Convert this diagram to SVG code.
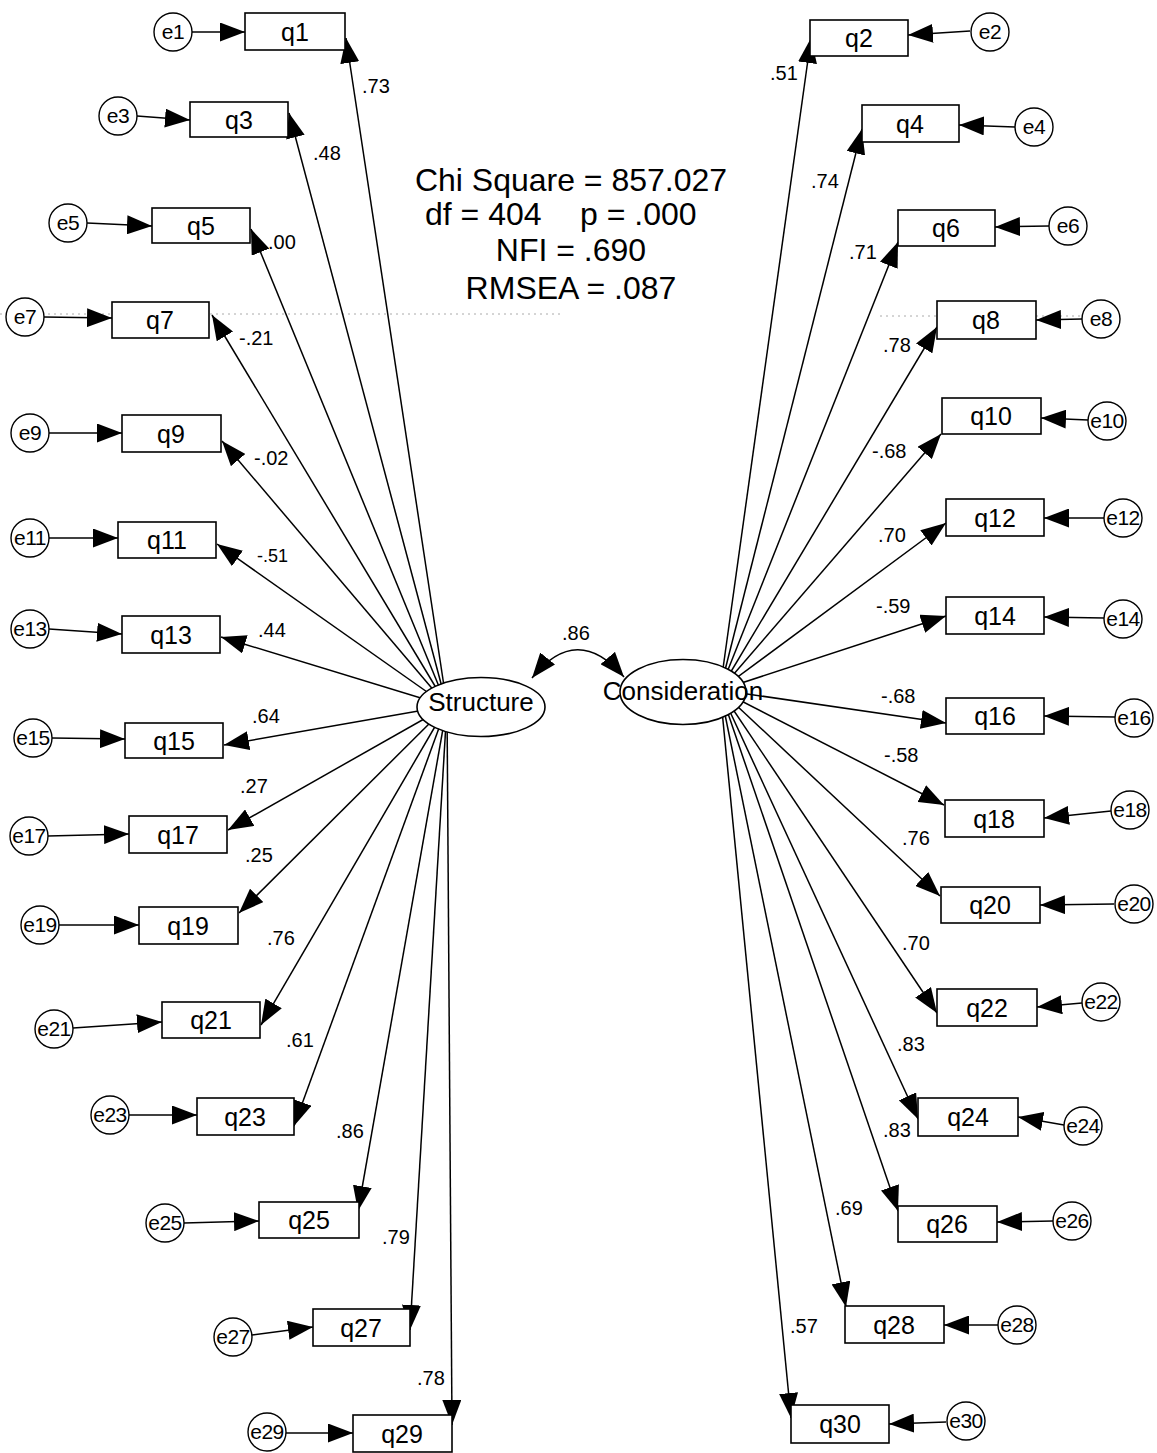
<svg xmlns="http://www.w3.org/2000/svg" width="1157" height="1453" viewBox="0 0 1157 1453">
<style>
.box{fill:#fff;stroke:#000;stroke-width:1.6}
.err{fill:#fff;stroke:#000;stroke-width:1.4}
.lat{fill:#fff;stroke:#000;stroke-width:1.6}
.qt{font-family:"Liberation Sans",Arial,sans-serif;font-size:25px;text-anchor:middle;fill:#000}
.et{font-family:"Liberation Sans",Arial,sans-serif;font-size:21px;text-anchor:middle;fill:#000;letter-spacing:-0.5px}
.lt{font-family:"Liberation Sans",Arial,sans-serif;font-size:26px;text-anchor:middle;fill:#000}
.wt{font-family:"Liberation Sans",Arial,sans-serif;font-size:20px;fill:#000}
.fit{font-family:"Liberation Sans",Arial,sans-serif;font-size:32px;fill:#000}
.c{stroke:#000;stroke-width:1.5;fill:none;marker-end:url(#ah)}
</style>
<defs>
<marker id="ah" viewBox="0 0 25 19" refX="25" refY="9.5" markerWidth="25" markerHeight="19" markerUnits="userSpaceOnUse" orient="auto-start-reverse"><path d="M0,0 L25,9.5 L0,19 z" fill="#000"/></marker>
</defs>
<rect width="1157" height="1453" fill="#fff"/>
<g id="scan-artifact" stroke="#aaa" stroke-width="1" stroke-dasharray="2 4">
<line x1="0" y1="314" x2="560" y2="314"/>
<line x1="880" y1="316" x2="1120" y2="316"/>
</g>
<g id="connectors">
<line class="c" x1="447" y1="706" x2="346" y2="38"/>
<line class="c" x1="447" y1="706" x2="289" y2="113"/>
<line class="c" x1="447" y1="706" x2="251" y2="229"/>
<line class="c" x1="447" y1="706" x2="212" y2="315"/>
<line class="c" x1="447" y1="706" x2="222" y2="441"/>
<line class="c" x1="447" y1="706" x2="217" y2="544"/>
<line class="c" x1="447" y1="706" x2="221" y2="637"/>
<line class="c" x1="447" y1="706" x2="224" y2="745"/>
<line class="c" x1="447" y1="706" x2="228" y2="830"/>
<line class="c" x1="447" y1="706" x2="239" y2="913"/>
<line class="c" x1="447" y1="706" x2="261" y2="1025"/>
<line class="c" x1="447" y1="706" x2="294" y2="1126"/>
<line class="c" x1="447" y1="706" x2="358" y2="1211"/>
<line class="c" x1="447" y1="706" x2="410" y2="1330"/>
<line class="c" x1="447" y1="706" x2="452" y2="1425"/>
<line class="c" x1="720" y1="690" x2="811" y2="38"/>
<line class="c" x1="720" y1="690" x2="862" y2="129"/>
<line class="c" x1="720" y1="690" x2="898" y2="242"/>
<line class="c" x1="720" y1="690" x2="937" y2="327"/>
<line class="c" x1="720" y1="690" x2="941" y2="434"/>
<line class="c" x1="720" y1="690" x2="946" y2="523"/>
<line class="c" x1="720" y1="690" x2="946" y2="616"/>
<line class="c" x1="720" y1="690" x2="946" y2="723"/>
<line class="c" x1="720" y1="690" x2="944" y2="805"/>
<line class="c" x1="720" y1="690" x2="940" y2="896"/>
<line class="c" x1="720" y1="690" x2="937" y2="1013"/>
<line class="c" x1="720" y1="690" x2="918" y2="1119"/>
<line class="c" x1="720" y1="690" x2="898" y2="1211"/>
<line class="c" x1="720" y1="690" x2="846" y2="1307"/>
<line class="c" x1="720" y1="690" x2="791" y2="1418"/>
<line class="c" x1="192" y1="32" x2="245" y2="32"/>
<line class="c" x1="137" y1="116" x2="190" y2="120"/>
<line class="c" x1="87" y1="223" x2="152" y2="226"/>
<line class="c" x1="44" y1="317" x2="112" y2="318"/>
<line class="c" x1="49" y1="433" x2="122" y2="433"/>
<line class="c" x1="49" y1="538" x2="118" y2="538"/>
<line class="c" x1="49" y1="629" x2="122" y2="634"/>
<line class="c" x1="52" y1="738" x2="125" y2="739"/>
<line class="c" x1="48" y1="836" x2="129" y2="834"/>
<line class="c" x1="59" y1="925" x2="139" y2="925"/>
<line class="c" x1="73" y1="1028" x2="162" y2="1022"/>
<line class="c" x1="129" y1="1115" x2="197" y2="1115"/>
<line class="c" x1="184" y1="1223" x2="259" y2="1221"/>
<line class="c" x1="252" y1="1335" x2="313" y2="1327"/>
<line class="c" x1="286" y1="1433" x2="353" y2="1433"/>
<line class="c" x1="970" y1="31" x2="908" y2="35"/>
<line class="c" x1="1015" y1="127" x2="959" y2="125"/>
<line class="c" x1="1049" y1="226" x2="995" y2="227"/>
<line class="c" x1="1082" y1="319" x2="1036" y2="320"/>
<line class="c" x1="1088" y1="420" x2="1041" y2="418"/>
<line class="c" x1="1104" y1="518" x2="1044" y2="518"/>
<line class="c" x1="1104" y1="618" x2="1044" y2="617"/>
<line class="c" x1="1115" y1="717" x2="1044" y2="716"/>
<line class="c" x1="1111" y1="811" x2="1044" y2="818"/>
<line class="c" x1="1114" y1="904" x2="1040" y2="905"/>
<line class="c" x1="1082" y1="1003" x2="1037" y2="1007"/>
<line class="c" x1="1064" y1="1125" x2="1018" y2="1117"/>
<line class="c" x1="1053" y1="1221" x2="997" y2="1222"/>
<line class="c" x1="998" y1="1325" x2="944" y2="1325"/>
<line class="c" x1="946" y1="1422" x2="889" y2="1424"/>
<path class="c" d="M532,678 Q577,622 624,677" marker-start="url(#ah)"/>
<text class="wt" x="562" y="640">.86</text>
</g>
<g id="nodes-latent">
<g id="Structure"><ellipse class="lat" cx="481" cy="707" rx="64" ry="29.5"/><text class="lt" x="481" y="711">Structure</text></g>
<g id="Consideration"><ellipse class="lat" cx="683" cy="692" rx="63" ry="32.5"/><text class="lt" x="683" y="700">Consideration</text></g>
</g>
<g id="nodes-observed">
<g id="q1"><rect class="box" x="245" y="13" width="100" height="37"/><text class="qt" x="295" y="41">q1</text></g>
<g id="q3"><rect class="box" x="190" y="102" width="98" height="35"/><text class="qt" x="239" y="129">q3</text></g>
<g id="q5"><rect class="box" x="152" y="208" width="98" height="35"/><text class="qt" x="201" y="235">q5</text></g>
<g id="q7"><rect class="box" x="112" y="302" width="97" height="36"/><text class="qt" x="160" y="329">q7</text></g>
<g id="q9"><rect class="box" x="122" y="415" width="99" height="37"/><text class="qt" x="171" y="443">q9</text></g>
<g id="q11"><rect class="box" x="118" y="522" width="98" height="36"/><text class="qt" x="167" y="549">q11</text></g>
<g id="q13"><rect class="box" x="122" y="616" width="98" height="37"/><text class="qt" x="171" y="644">q13</text></g>
<g id="q15"><rect class="box" x="125" y="723" width="98" height="35"/><text class="qt" x="174" y="750">q15</text></g>
<g id="q17"><rect class="box" x="129" y="816" width="98" height="37"/><text class="qt" x="178" y="844">q17</text></g>
<g id="q19"><rect class="box" x="139" y="907" width="99" height="37"/><text class="qt" x="188" y="935">q19</text></g>
<g id="q21"><rect class="box" x="162" y="1002" width="98" height="36"/><text class="qt" x="211" y="1029">q21</text></g>
<g id="q23"><rect class="box" x="197" y="1098" width="97" height="37"/><text class="qt" x="245" y="1126">q23</text></g>
<g id="q25"><rect class="box" x="259" y="1202" width="100" height="36"/><text class="qt" x="309" y="1229">q25</text></g>
<g id="q27"><rect class="box" x="313" y="1309" width="97" height="37"/><text class="qt" x="361" y="1337">q27</text></g>
<g id="q29"><rect class="box" x="353" y="1415" width="99" height="37"/><text class="qt" x="402" y="1443">q29</text></g>
<g id="q2"><rect class="box" x="810" y="20" width="98" height="36"/><text class="qt" x="859" y="47">q2</text></g>
<g id="q4"><rect class="box" x="862" y="105" width="97" height="37"/><text class="qt" x="910" y="133">q4</text></g>
<g id="q6"><rect class="box" x="898" y="210" width="97" height="36"/><text class="qt" x="946" y="237">q6</text></g>
<g id="q8"><rect class="box" x="937" y="301" width="99" height="38"/><text class="qt" x="986" y="329">q8</text></g>
<g id="q10"><rect class="box" x="942" y="398" width="99" height="36"/><text class="qt" x="991" y="425">q10</text></g>
<g id="q12"><rect class="box" x="946" y="499" width="98" height="37"/><text class="qt" x="995" y="527">q12</text></g>
<g id="q14"><rect class="box" x="946" y="597" width="98" height="37"/><text class="qt" x="995" y="625">q14</text></g>
<g id="q16"><rect class="box" x="946" y="698" width="98" height="36"/><text class="qt" x="995" y="725">q16</text></g>
<g id="q18"><rect class="box" x="945" y="800" width="99" height="37"/><text class="qt" x="994" y="828">q18</text></g>
<g id="q20"><rect class="box" x="941" y="887" width="99" height="36"/><text class="qt" x="990" y="914">q20</text></g>
<g id="q22"><rect class="box" x="937" y="989" width="100" height="37"/><text class="qt" x="987" y="1017">q22</text></g>
<g id="q24"><rect class="box" x="918" y="1098" width="100" height="38"/><text class="qt" x="968" y="1126">q24</text></g>
<g id="q26"><rect class="box" x="898" y="1206" width="99" height="36"/><text class="qt" x="947" y="1233">q26</text></g>
<g id="q28"><rect class="box" x="845" y="1306" width="99" height="37"/><text class="qt" x="894" y="1334">q28</text></g>
<g id="q30"><rect class="box" x="791" y="1405" width="98" height="38"/><text class="qt" x="840" y="1433">q30</text></g>
</g>
<g id="nodes-error">
<g id="e1"><circle class="err" cx="173" cy="32" r="19"/><text class="et" x="173" y="39">e1</text></g>
<g id="e3"><circle class="err" cx="118" cy="116" r="19"/><text class="et" x="118" y="123">e3</text></g>
<g id="e5"><circle class="err" cx="68" cy="223" r="19"/><text class="et" x="68" y="230">e5</text></g>
<g id="e7"><circle class="err" cx="25" cy="317" r="19"/><text class="et" x="25" y="324">e7</text></g>
<g id="e9"><circle class="err" cx="30" cy="433" r="19"/><text class="et" x="30" y="440">e9</text></g>
<g id="e11"><circle class="err" cx="30" cy="538" r="19"/><text class="et" x="30" y="545">e11</text></g>
<g id="e13"><circle class="err" cx="30" cy="629" r="19"/><text class="et" x="30" y="636">e13</text></g>
<g id="e15"><circle class="err" cx="33" cy="738" r="19"/><text class="et" x="33" y="745">e15</text></g>
<g id="e17"><circle class="err" cx="29" cy="836" r="19"/><text class="et" x="29" y="843">e17</text></g>
<g id="e19"><circle class="err" cx="40" cy="925" r="19"/><text class="et" x="40" y="932">e19</text></g>
<g id="e21"><circle class="err" cx="54" cy="1029" r="19"/><text class="et" x="54" y="1036">e21</text></g>
<g id="e23"><circle class="err" cx="110" cy="1115" r="19"/><text class="et" x="110" y="1122">e23</text></g>
<g id="e25"><circle class="err" cx="165" cy="1223" r="19"/><text class="et" x="165" y="1230">e25</text></g>
<g id="e27"><circle class="err" cx="233" cy="1337" r="19"/><text class="et" x="233" y="1344">e27</text></g>
<g id="e29"><circle class="err" cx="267" cy="1432" r="19"/><text class="et" x="267" y="1439">e29</text></g>
<g id="e2"><circle class="err" cx="990" cy="32" r="19"/><text class="et" x="990" y="39">e2</text></g>
<g id="e4"><circle class="err" cx="1034" cy="127" r="19"/><text class="et" x="1034" y="134">e4</text></g>
<g id="e6"><circle class="err" cx="1068" cy="226" r="19"/><text class="et" x="1068" y="233">e6</text></g>
<g id="e8"><circle class="err" cx="1101" cy="319" r="19"/><text class="et" x="1101" y="326">e8</text></g>
<g id="e10"><circle class="err" cx="1107" cy="421" r="19"/><text class="et" x="1107" y="428">e10</text></g>
<g id="e12"><circle class="err" cx="1123" cy="518" r="19"/><text class="et" x="1123" y="525">e12</text></g>
<g id="e14"><circle class="err" cx="1123" cy="619" r="19"/><text class="et" x="1123" y="626">e14</text></g>
<g id="e16"><circle class="err" cx="1134" cy="718" r="19"/><text class="et" x="1134" y="725">e16</text></g>
<g id="e18"><circle class="err" cx="1130" cy="810" r="19"/><text class="et" x="1130" y="817">e18</text></g>
<g id="e20"><circle class="err" cx="1134" cy="904" r="19"/><text class="et" x="1134" y="911">e20</text></g>
<g id="e22"><circle class="err" cx="1101" cy="1002" r="19"/><text class="et" x="1101" y="1009">e22</text></g>
<g id="e24"><circle class="err" cx="1083" cy="1126" r="19"/><text class="et" x="1083" y="1133">e24</text></g>
<g id="e26"><circle class="err" cx="1072" cy="1221" r="19"/><text class="et" x="1072" y="1228">e26</text></g>
<g id="e28"><circle class="err" cx="1017" cy="1325" r="19"/><text class="et" x="1017" y="1332">e28</text></g>
<g id="e30"><circle class="err" cx="966" cy="1421" r="19"/><text class="et" x="966" y="1428">e30</text></g>
</g>
<g id="loading-labels">
<text class="wt" x="362" y="93">.73</text>
<text class="wt" x="313" y="160">.48</text>
<text class="wt" x="268" y="249">.00</text>
<text class="wt" x="239" y="345">-.21</text>
<text class="wt" x="254" y="465">-.02</text>
<text class="wt" x="257" y="562" style="font-size:18px">-.51</text>
<text class="wt" x="258" y="637">.44</text>
<text class="wt" x="252" y="723">.64</text>
<text class="wt" x="240" y="793">.27</text>
<text class="wt" x="245" y="862">.25</text>
<text class="wt" x="267" y="945">.76</text>
<text class="wt" x="286" y="1047">.61</text>
<text class="wt" x="336" y="1138">.86</text>
<text class="wt" x="382" y="1244">.79</text>
<text class="wt" x="417" y="1385">.78</text>
<text class="wt" x="770" y="80">.51</text>
<text class="wt" x="811" y="188">.74</text>
<text class="wt" x="849" y="259">.71</text>
<text class="wt" x="883" y="352">.78</text>
<text class="wt" x="872" y="458">-.68</text>
<text class="wt" x="878" y="542">.70</text>
<text class="wt" x="876" y="613">-.59</text>
<text class="wt" x="881" y="703">-.68</text>
<text class="wt" x="884" y="762">-.58</text>
<text class="wt" x="902" y="845">.76</text>
<text class="wt" x="902" y="950">.70</text>
<text class="wt" x="897" y="1051">.83</text>
<text class="wt" x="883" y="1137">.83</text>
<text class="wt" x="835" y="1215">.69</text>
<text class="wt" x="790" y="1333">.57</text>
</g>
<g id="fit-stats">
<text class="fit" x="571" y="191" text-anchor="middle">Chi Square = 857.027</text>
<text class="fit" x="425" y="225">df = 404</text>
<text class="fit" x="580" y="225">p = .000</text>
<text class="fit" x="571" y="261" text-anchor="middle">NFI = .690</text>
<text class="fit" x="571" y="299" text-anchor="middle">RMSEA = .087</text>
</g>
</svg>
